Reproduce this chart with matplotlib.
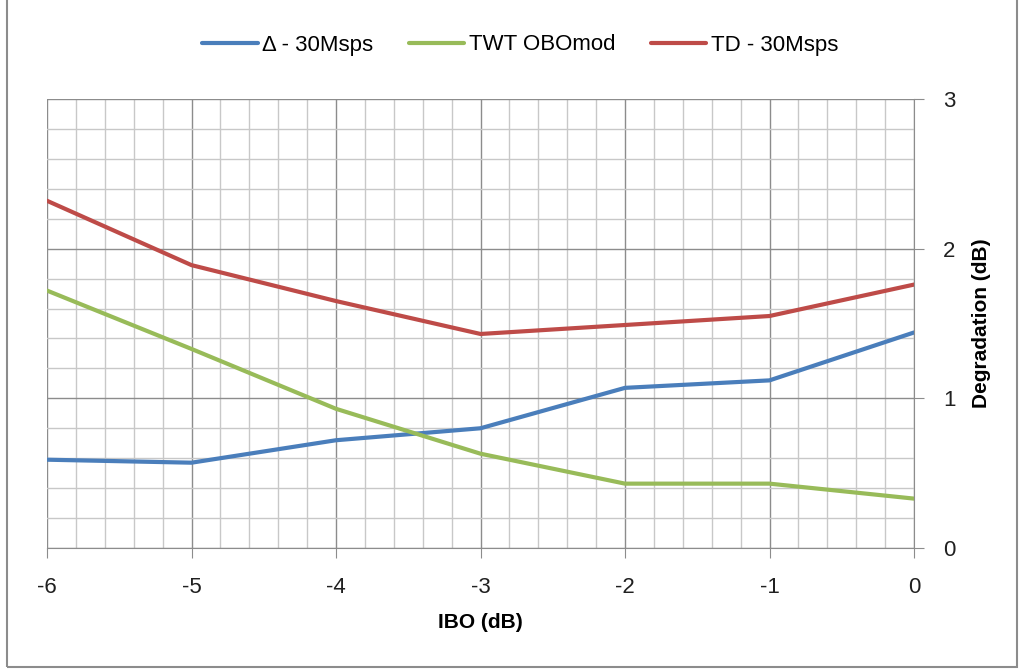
import matplotlib.pyplot as plt
from matplotlib.patches import Rectangle
from matplotlib.ticker import MultipleLocator

plt.rcParams['font.family'] = ['Liberation Sans', 'DejaVu Sans']
plt.rcParams['axes.unicode_minus'] = False

# IBO values (dB) and degradation for each series
ibo = [-6, -5, -4, -3, -2, -1, 0]
delta_30msps = [0.59, 0.57, 0.72, 0.80, 1.07, 1.12, 1.44]
twt_obomod = [1.72, 1.33, 0.93, 0.63, 0.43, 0.43, 0.33]
td_30msps = [2.32, 1.89, 1.65, 1.43, 1.49, 1.55, 1.76]

fig = plt.figure(figsize=(10.21, 6.71), dpi=100)
ax = fig.add_axes([47 / 1021, 1 - 548 / 671, (914 - 47) / 1021, (548 - 99) / 671])

ax.plot(ibo, delta_30msps, color='#4a7ebb', lw=3.0, label='Δ - 30Msps', solid_capstyle='round')
ax.plot(ibo, twt_obomod, color='#98bb59', lw=3.0, label='TWT OBOmod', solid_capstyle='round')
ax.plot(ibo, td_30msps, color='#be4b48', lw=3.0, label='TD - 30Msps', solid_capstyle='round')

ax.set_xlim(-6, 0)
ax.set_ylim(0, 3)
ax.xaxis.set_major_locator(MultipleLocator(1))
ax.xaxis.set_minor_locator(MultipleLocator(0.2))
ax.yaxis.set_major_locator(MultipleLocator(1))
ax.yaxis.set_minor_locator(MultipleLocator(0.2))

ax.grid(which='major', color='#8c8c8c', lw=1.0)
ax.grid(which='minor', color='#c8c8c8', lw=1.0)
ax.set_axisbelow(True)

ax.yaxis.tick_right()
ax.yaxis.set_label_position('right')
for s in ['top', 'left']:
    ax.spines[s].set_visible(False)
ax.spines['bottom'].set_color('#8c8c8c')
ax.spines['right'].set_color('#8c8c8c')
ax.tick_params(which='major', length=7, color='#8c8c8c', labelsize=16, labelcolor='#202020')
ax.tick_params(which='minor', length=0)
ax.tick_params(axis='x', pad=14)
ax.tick_params(axis='y', pad=14)

ax.set_xlabel('IBO (dB)', fontsize=15, fontweight='bold', labelpad=11)
ax.set_ylabel('Degradation (dB)', fontsize=15, fontweight='bold', labelpad=12)

fig.legend(loc='center', bbox_to_anchor=(520 / 1021, 1 - 45 / 671), ncol=3,
           frameon=False, fontsize=16, handlelength=2.5, columnspacing=1.6, handletextpad=0.2)

fig.patches.append(Rectangle((7 / 1021, 4 / 671), 1010 / 1021, 700 / 671,
                             transform=fig.transFigure, fill=False, edgecolor='#8c8c8c', lw=1.5))

fig.savefig('out.png', dpi=100)
